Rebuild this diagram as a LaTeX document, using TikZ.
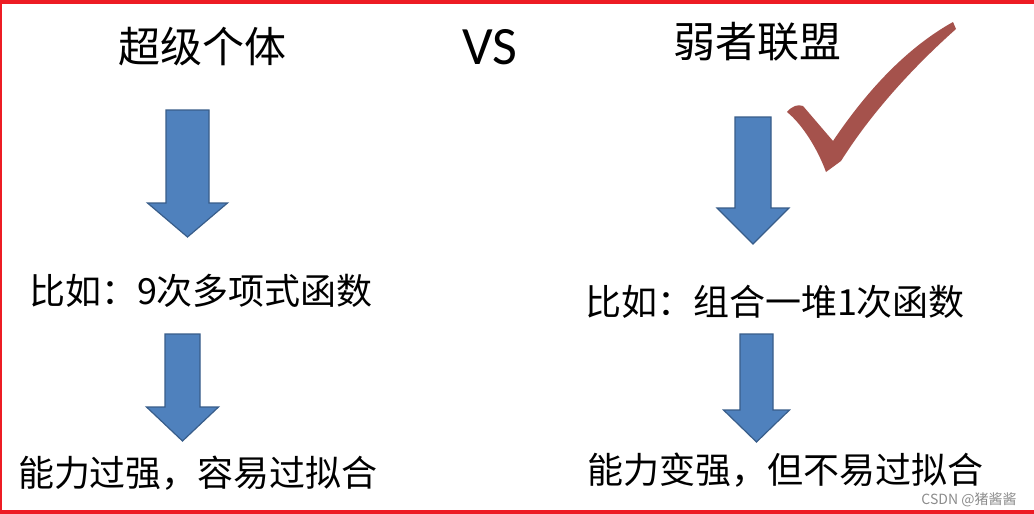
\documentclass[tikz,border=0pt]{standalone}
\usepackage{fontspec}
\newfontfamily\cjk{Noto Sans CJK SC}
\newfontfamily\vsfont{Carlito}
\usetikzlibrary{positioning}
\definecolor{arrowblue}{HTML}{4F81BD}
\definecolor{arrowedge}{HTML}{385D8A}
\definecolor{tickred}{HTML}{A5524C}
\definecolor{framered}{HTML}{ED1C24}
% #1 centre x, #2 top, #3 head start, #4 tip, #5 half shaft, #6 half head
\newcommand\dnarrow[6]{%
  \filldraw[blockarrow] (#1-#5,#2) -- (#1+#5,#2) -- (#1+#5,#3) -- (#1+#6,#3)
    -- (#1,#4) -- (#1-#6,#3) -- (#1-#5,#3) -- cycle;}

\begin{document}
\begin{tikzpicture}[x=1pt,y=-1pt,
  title/.style={font=\cjk\fontsize{42}{42}\selectfont,inner sep=0pt},
  line/.style={font=\cjk\fontsize{36}{36}\selectfont,inner sep=0pt},
  blockarrow/.style={fill=arrowblue,draw=arrowedge,line width=1.2pt,line join=miter}]
\useasboundingbox (0,0) rectangle (1034,514);
\fill[white] (0,0) rectangle (1034,514);
% frame
\fill[framered] (0,0) rectangle (1034,4);
\fill[framered] (0,510) rectangle (1034,514);
\fill[framered] (0,0) rectangle (2,514);
% titles
\node[title] (super) at (202,47) {超级个体};
\node[font=\vsfont\fontsize{54}{54}\selectfont,inner sep=0pt] (vs) at (490,47) {VS};
\node[title] (weak) at (757,42) {弱者联盟};
% examples and results
\node[line] (ex1) at (201,291) {比如：9次多项式函数};
\node[line] (ex2) at (775,302) {比如：组合一堆1次函数};
\node[line] (res1) at (198,473) {能力过强，容易过拟合};
\node[line] (res2) at (785,470) {能力变强，但不易过拟合};
% block arrows
\dnarrow{187.5}{110}{203}{237}{21.5}{40}
\dnarrow{753}{117}{208}{244}{18}{36}
\dnarrow{182.5}{334}{407}{441}{17.5}{36}
\dnarrow{756.5}{334}{410}{442}{16.5}{33}
% tick
\fill[tickred] (787,112) .. controls (792,106) and (798,104) .. (803,106)
  -- (833,141) .. controls (870,86) and (910,46) .. (953,22)
  -- (956,29) .. controls (910,70) and (870,115) .. (841,161)
  -- (826,172) .. controls (818,150) and (803,125) .. (787,112) -- cycle;
% watermark
\node[font=\cjk\fontsize{14}{14}\selectfont,text=black!45,inner sep=0pt] (mark) at (969,500) {CSDN @猪酱酱};
\end{tikzpicture}
\end{document}
